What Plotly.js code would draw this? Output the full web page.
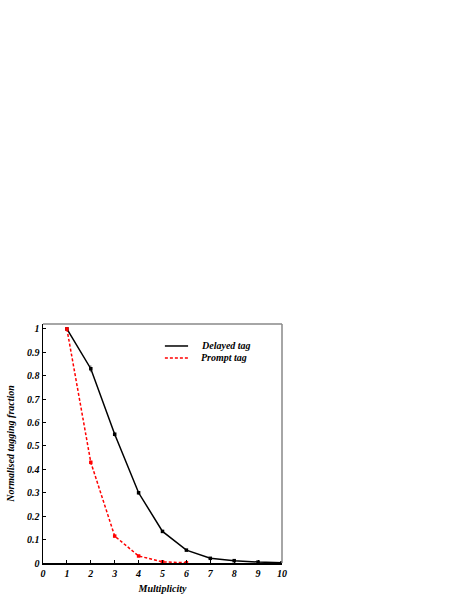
<!DOCTYPE html>
<html>
<head>
<meta charset="utf-8">
<script src="https://cdn.plot.ly/plotly-3.0.1.min.js"></script>
<style>
  html, body { margin: 0; padding: 0; background: #fff; }
  #plot { width: 469px; height: 607px; }
</style>
</head>
<body>
<div id="plot"></div>
<script>
// values
const multiplicity = [1, 2, 3, 4, 5, 6, 7, 8, 9, 10];
const delayedFrac = [1.0, 0.83, 0.55, 0.30, 0.135, 0.055, 0.02, 0.01, 0.004, 0.001];
const delayedErr = [0, 0.015, 0.01, 0.008, 0.005, 0.003, 0.002, 0.002, 0.001, 0.001];
const promptMult = [1, 2, 3, 4, 5, 6];
const promptFrac = [1.0, 0.43, 0.115, 0.03, 0.005, 0.001];
const promptErr = [0, 0.01, 0.006, 0.004, 0.002, 0.001];
const xTicks = [0, 1, 2, 3, 4, 5, 6, 7, 8, 9, 10];
const yTicks = [0, 0.1, 0.2, 0.3, 0.4, 0.5, 0.6, 0.7, 0.8, 0.9, 1];
const yTickText = ['0', '0.1', '0.2', '0.3', '0.4', '0.5', '0.6', '0.7', '0.8', '0.9', '1'];
const seriesNames = ['Delayed tag', 'Prompt tag'];

const serif = 'Liberation Serif, Times New Roman, serif';
const bi = s => '<b><i>' + s + '</i></b>';

const data = [
    {
        x: multiplicity,
        y: delayedFrac,
        name: seriesNames[0],
        type: 'scatter',
        mode: 'lines+markers',
        line: { color: 'black', width: 1.5 },
        marker: { symbol: 'square', size: 3.5, color: 'black' },
        error_y: { type: 'data', array: delayedErr, color: '#777', thickness: 1, width: 0 }
    },
    {
        x: promptMult,
        y: promptFrac,
        name: seriesNames[1],
        type: 'scatter',
        mode: 'lines+markers',
        line: { color: 'red', width: 1.5, dash: '3px,2px' },
        marker: { symbol: 'square', size: 3.5, color: 'red' },
        error_y: { type: 'data', array: promptErr, color: '#f77', thickness: 1, width: 0 }
    }
];

// hand-made legend: line samples + labels (no markers, tight spacing)
const legendY = [0.908, 0.858];
const legendLines = [
    { color: 'black', dash: 'solid' },
    { color: 'red', dash: '3px,2px' }
];
const shapes = [
    { type: 'line', xref: 'paper', yref: 'paper', x0: 0, x1: 1, y0: 1, y1: 1, line: { color: '#888', width: 1.5 } },
    { type: 'line', xref: 'paper', yref: 'paper', x0: 1, x1: 1, y0: 0, y1: 1, line: { color: '#888', width: 1.5 } }
];
const annotations = [];
seriesNames.forEach((nm, i) => {
    shapes.push({
        type: 'line', xref: 'paper', yref: 'paper',
        x0: 0.51, x1: 0.607, y0: legendY[i], y1: legendY[i],
        line: { color: legendLines[i].color, width: 1.5, dash: legendLines[i].dash }
    });
    annotations.push({
        xref: 'paper', yref: 'paper', x: 0.653, y: legendY[i],
        xanchor: 'left', yanchor: 'middle', showarrow: false,
        text: bi(nm), font: { family: serif, size: 10, color: 'black' }
    });
});

const layout = {
    width: 469,
    height: 607,
    paper_bgcolor: 'white',
    plot_bgcolor: 'white',
    margin: { l: 43, r: 187, t: 324, b: 44 },
    font: { family: serif, size: 10, color: 'black' },
    showlegend: false,
    xaxis: {
        range: [0, 10],
        tickvals: xTicks,
        ticktext: xTicks.map(v => bi(String(v))),
        ticks: 'inside', ticklen: 3, tickcolor: 'black',
        showline: true, linecolor: 'black', linewidth: 1.5,
        showgrid: false, zeroline: false,
        title: { text: bi('Multiplicity'), font: { family: serif, size: 10 }, standoff: 7 }
    },
    yaxis: {
        range: [0, 1.021],
        tickvals: yTicks,
        ticktext: yTickText.map(bi),
        ticks: 'inside', ticklen: 3, tickcolor: 'black',
        showline: true, linecolor: 'black', linewidth: 1.5,
        showgrid: false, zeroline: false,
        title: { text: bi('Normalised tagging fraction'), font: { family: serif, size: 10 }, standoff: 10 }
    },
    shapes: shapes,
    annotations: annotations
};

Plotly.newPlot('plot', data, layout, { displayModeBar: false, staticPlot: true });
</script>
</body>
</html>
